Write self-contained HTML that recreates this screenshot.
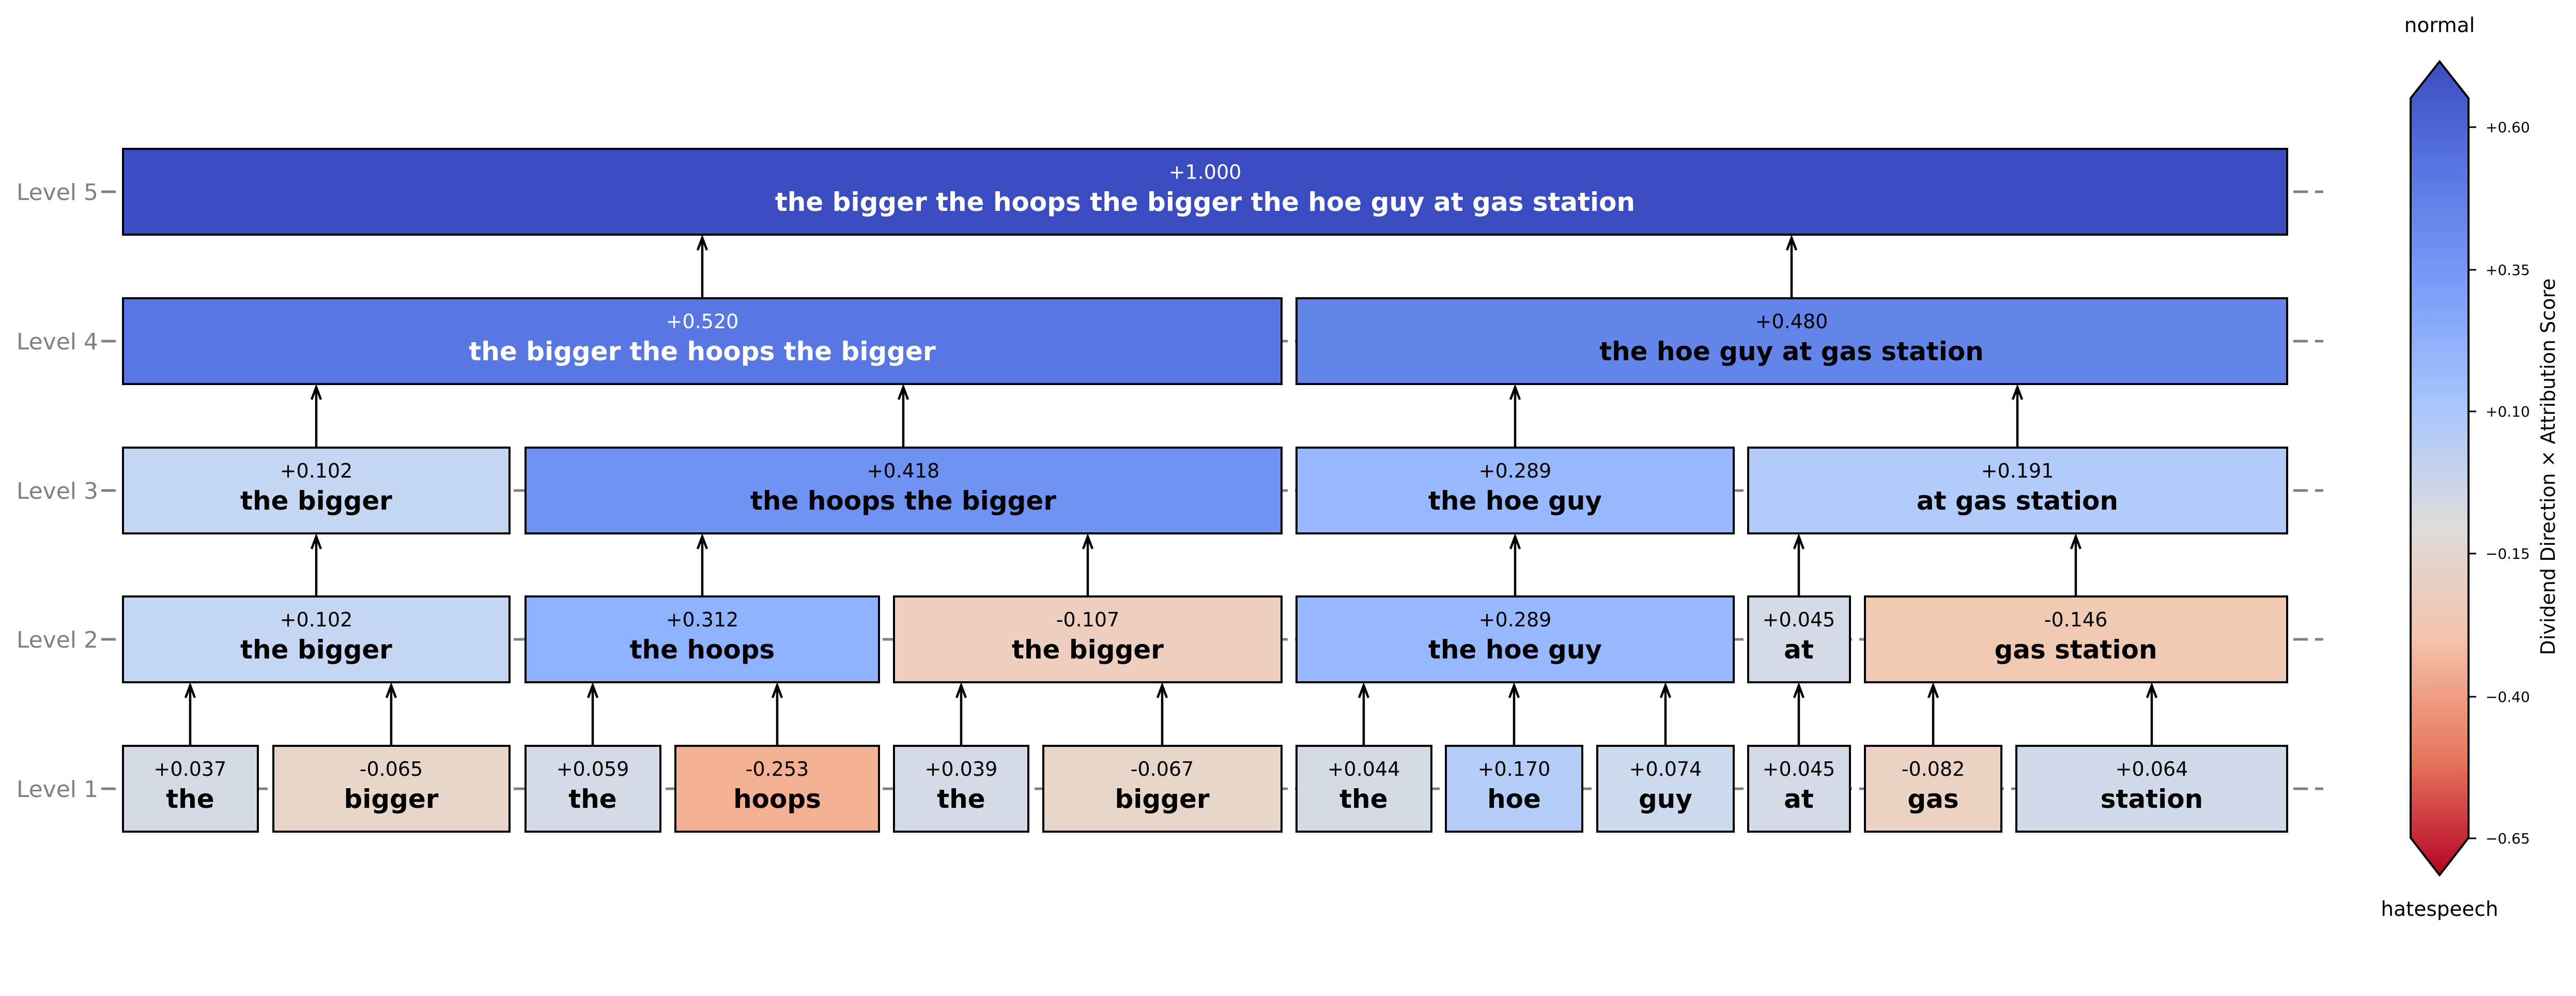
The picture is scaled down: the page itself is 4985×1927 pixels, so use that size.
<!DOCTYPE html>
<html><head><meta charset="utf-8"><style>
html,body{margin:0;padding:0;background:#fff;}
svg{display:block;}
text{font-family:"DejaVu Sans","Liberation Sans",sans-serif;}
.v{font-size:38px;text-anchor:middle;}
.l{font-size:50px;font-weight:bold;text-anchor:middle;}
.lv{font-size:44px;fill:#808080;text-anchor:end;}
.tk{font-size:28px;}
</style></head><body>
<svg width="4985" height="1927" viewBox="0 0 4985 1927" xmlns="http://www.w3.org/2000/svg">
<defs>
<linearGradient id="cw" x1="0" y1="0" x2="0" y2="1">
<stop offset="0" stop-color="#3b4cc0"/>
<stop offset="0.14" stop-color="#5a78e4"/>
<stop offset="0.29" stop-color="#7ea1fa"/>
<stop offset="0.43" stop-color="#aac7fd"/>
<stop offset="0.57" stop-color="#dddcdc"/>
<stop offset="0.71" stop-color="#f5c2aa"/>
<stop offset="0.86" stop-color="#e7745b"/>
<stop offset="1" stop-color="#b40426"/>
</linearGradient>
</defs>
<g stroke="#808080" stroke-width="5" stroke-dasharray="28 14" fill="none">
<line x1="196" y1="371" x2="4496" y2="371"/>
<line x1="196" y1="660" x2="4496" y2="660"/>
<line x1="196" y1="949" x2="4496" y2="949"/>
<line x1="196" y1="1237" x2="4496" y2="1237"/>
<line x1="196" y1="1526" x2="4496" y2="1526"/>
</g>
<text class="lv" x="190" y="387">Level 5</text>
<text class="lv" x="190" y="676">Level 4</text>
<text class="lv" x="190" y="965">Level 3</text>
<text class="lv" x="190" y="1253">Level 2</text>
<text class="lv" x="190" y="1542">Level 1</text>

<g stroke="#000" stroke-width="4">
<rect x="238" y="288" width="4188" height="166" fill="#3b4cc0"/>
<rect x="238" y="577" width="2242" height="166" fill="#5977e3"/>
<rect x="2509" y="577" width="1917" height="166" fill="#6384e9"/>
<rect x="238" y="866" width="748" height="166" fill="#c5d6f2"/>
<rect x="1017" y="866" width="1463" height="166" fill="#7093f3"/>
<rect x="2509" y="866" width="846" height="166" fill="#98b9ff"/>
<rect x="3383" y="866" width="1043" height="166" fill="#b2cbfb"/>
<rect x="238" y="1154" width="748" height="166" fill="#c5d6f2"/>
<rect x="1017" y="1154" width="684" height="166" fill="#8fb1fe"/>
<rect x="1730" y="1154" width="750" height="166" fill="#eecfbf"/>
<rect x="2509" y="1154" width="846" height="166" fill="#98b9ff"/>
<rect x="3383" y="1154" width="197" height="166" fill="#d4dbe6"/>
<rect x="3609" y="1154" width="817" height="166" fill="#f0c9b3"/>
<rect x="238" y="1443" width="261" height="166" fill="#d4dbe5"/>
<rect x="529" y="1443" width="457" height="166" fill="#e8d6cb"/>
<rect x="1017" y="1443" width="261" height="166" fill="#d4dbe6"/>
<rect x="1307" y="1443" width="394" height="166" fill="#f4b093"/>
<rect x="1730" y="1443" width="260" height="166" fill="#d4dbe6"/>
<rect x="2019" y="1443" width="461" height="166" fill="#e8d6cb"/>
<rect x="2509" y="1443" width="261" height="166" fill="#d4dbe5"/>
<rect x="2798" y="1443" width="264" height="166" fill="#b4cdf9"/>
<rect x="3091" y="1443" width="264" height="166" fill="#cdd9ec"/>
<rect x="3383" y="1443" width="197" height="166" fill="#d4dbe6"/>
<rect x="3609" y="1443" width="264" height="166" fill="#ebd3c6"/>
<rect x="3902" y="1443" width="524" height="166" fill="#d0dae9"/>
</g>

<g stroke="#000" stroke-width="4.5" fill="none" stroke-linejoin="miter">
<path d="M1359 577V460M1350 484L1359 460L1368 484"/>
<path d="M3467 577V460M3458 484L3467 460L3476 484"/>
<path d="M612 866V749M603 773L612 749L621 773"/>
<path d="M1748 866V749M1739 773L1748 749L1757 773"/>
<path d="M2932 866V749M2923 773L2932 749L2941 773"/>
<path d="M3904 866V749M3895 773L3904 749L3913 773"/>
<path d="M612 1154V1038M603 1062L612 1038L621 1062"/>
<path d="M1359 1154V1038M1350 1062L1359 1038L1368 1062"/>
<path d="M2105 1154V1038M2096 1062L2105 1038L2114 1062"/>
<path d="M2932 1154V1038M2923 1062L2932 1038L2941 1062"/>
<path d="M3481 1154V1038M3472 1062L3481 1038L3490 1062"/>
<path d="M4017 1154V1038M4008 1062L4017 1038L4026 1062"/>
<path d="M368 1443V1326M359 1350L368 1326L377 1350"/>
<path d="M757 1443V1326M748 1350L757 1326L766 1350"/>
<path d="M1147 1443V1326M1138 1350L1147 1326L1156 1350"/>
<path d="M1504 1443V1326M1495 1350L1504 1326L1513 1350"/>
<path d="M1860 1443V1326M1851 1350L1860 1326L1869 1350"/>
<path d="M2249 1443V1326M2240 1350L2249 1326L2258 1350"/>
<path d="M2639 1443V1326M2630 1350L2639 1326L2648 1350"/>
<path d="M2930 1443V1326M2921 1350L2930 1326L2939 1350"/>
<path d="M3223 1443V1326M3214 1350L3223 1326L3232 1350"/>
<path d="M3481 1443V1326M3472 1350L3481 1326L3490 1350"/>
<path d="M3741 1443V1326M3732 1350L3741 1326L3750 1350"/>
<path d="M4164 1443V1326M4155 1350L4164 1326L4173 1350"/>
</g>

<g>
<text class="v" x="2332" y="346" fill="#fff">+1.000</text>
<text class="l" x="2332" y="408" fill="#fff">the bigger the hoops the bigger the hoe guy at gas station</text>
<text class="v" x="1359" y="635" fill="#fff">+0.520</text>
<text class="l" x="1359" y="697" fill="#fff">the bigger the hoops the bigger</text>
<text class="v" x="3467" y="635">+0.480</text>
<text class="l" x="3467" y="697">the hoe guy at gas station</text>
<text class="v" x="612" y="924">+0.102</text>
<text class="l" x="612" y="986">the bigger</text>
<text class="v" x="1748" y="924">+0.418</text>
<text class="l" x="1748" y="986">the hoops the bigger</text>
<text class="v" x="2932" y="924">+0.289</text>
<text class="l" x="2932" y="986">the hoe guy</text>
<text class="v" x="3904" y="924">+0.191</text>
<text class="l" x="3904" y="986">at gas station</text>
<text class="v" x="612" y="1212">+0.102</text>
<text class="l" x="612" y="1274">the bigger</text>
<text class="v" x="1359" y="1212">+0.312</text>
<text class="l" x="1359" y="1274">the hoops</text>
<text class="v" x="2105" y="1212">-0.107</text>
<text class="l" x="2105" y="1274">the bigger</text>
<text class="v" x="2932" y="1212">+0.289</text>
<text class="l" x="2932" y="1274">the hoe guy</text>
<text class="v" x="3481" y="1212">+0.045</text>
<text class="l" x="3481" y="1274">at</text>
<text class="v" x="4017" y="1212">-0.146</text>
<text class="l" x="4017" y="1274">gas station</text>
<text class="v" x="368" y="1501">+0.037</text>
<text class="l" x="368" y="1563">the</text>
<text class="v" x="757" y="1501">-0.065</text>
<text class="l" x="757" y="1563">bigger</text>
<text class="v" x="1147" y="1501">+0.059</text>
<text class="l" x="1147" y="1563">the</text>
<text class="v" x="1504" y="1501">-0.253</text>
<text class="l" x="1504" y="1563">hoops</text>
<text class="v" x="1860" y="1501">+0.039</text>
<text class="l" x="1860" y="1563">the</text>
<text class="v" x="2249" y="1501">-0.067</text>
<text class="l" x="2249" y="1563">bigger</text>
<text class="v" x="2639" y="1501">+0.044</text>
<text class="l" x="2639" y="1563">the</text>
<text class="v" x="2930" y="1501">+0.170</text>
<text class="l" x="2930" y="1563">hoe</text>
<text class="v" x="3223" y="1501">+0.074</text>
<text class="l" x="3223" y="1563">guy</text>
<text class="v" x="3481" y="1501">+0.045</text>
<text class="l" x="3481" y="1563">at</text>
<text class="v" x="3741" y="1501">-0.082</text>
<text class="l" x="3741" y="1563">gas</text>
<text class="v" x="4164" y="1501">+0.064</text>
<text class="l" x="4164" y="1563">station</text>
</g>

<polygon points="4721,119 4777,190 4777,1621 4721,1693 4665,1621 4665,190" fill="url(#cw)" stroke="#000" stroke-width="4"/>
<g stroke="#000" stroke-width="3">
<line x1="4777" y1="246" x2="4792" y2="246"/>
<line x1="4777" y1="522" x2="4792" y2="522"/>
<line x1="4777" y1="796" x2="4792" y2="796"/>
<line x1="4777" y1="1071" x2="4792" y2="1071"/>
<line x1="4777" y1="1348" x2="4792" y2="1348"/>
<line x1="4777" y1="1622" x2="4792" y2="1622"/>
</g>
<text class="tk" x="4810" y="256">+0.60</text>
<text class="tk" x="4810" y="532">+0.35</text>
<text class="tk" x="4810" y="806">+0.10</text>
<text class="tk" x="4810" y="1081">−0.15</text>
<text class="tk" x="4810" y="1358">−0.40</text>
<text class="tk" x="4810" y="1632">−0.65</text>
<text x="4721" y="62" font-size="39" text-anchor="middle">normal</text>
<text x="4721" y="1772" font-size="39" text-anchor="middle">hatespeech</text>
<text x="0" y="0" font-size="38" text-anchor="middle" transform="translate(4944,903) rotate(-90)">Dividend Direction × Attribution Score</text>
</svg>
</body></html>
